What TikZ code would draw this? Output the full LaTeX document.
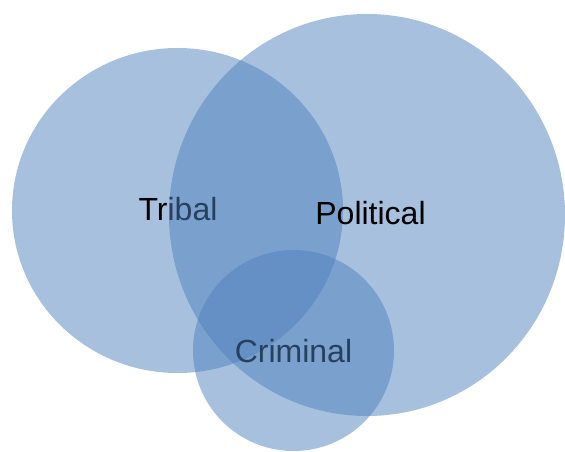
\documentclass[tikz,border=0pt]{standalone}
\usepackage{fontspec}
\setmainfont{Liberation Sans}
\definecolor{vennblue}{HTML}{4F81BD}

\begin{document}
\begin{tikzpicture}[x=1pt,y=-1pt,
  venn/.style={fill=vennblue, fill opacity=.5},
  setname/.style={anchor=base, inner sep=0pt, text=black,
    font=\fontsize{32}{38}\selectfont}]
\useasboundingbox (0,0) rectangle (565,451);

\fill[venn] (177.5,210.5) ellipse [x radius=165.5pt, y radius=162.5pt];
\node[setname] (tribal) at (178,220.5) {Tribal};

\fill[venn] (367,215) ellipse [x radius=198pt, y radius=201pt];
\node[setname] (political) at (370.5,224.5) {Political};

\node[setname] (criminal) at (293.5,362.5) {Criminal};
\fill[venn] (293.5,350.5) ellipse [x radius=100.5pt, y radius=100.5pt];
\end{tikzpicture}
\end{document}
